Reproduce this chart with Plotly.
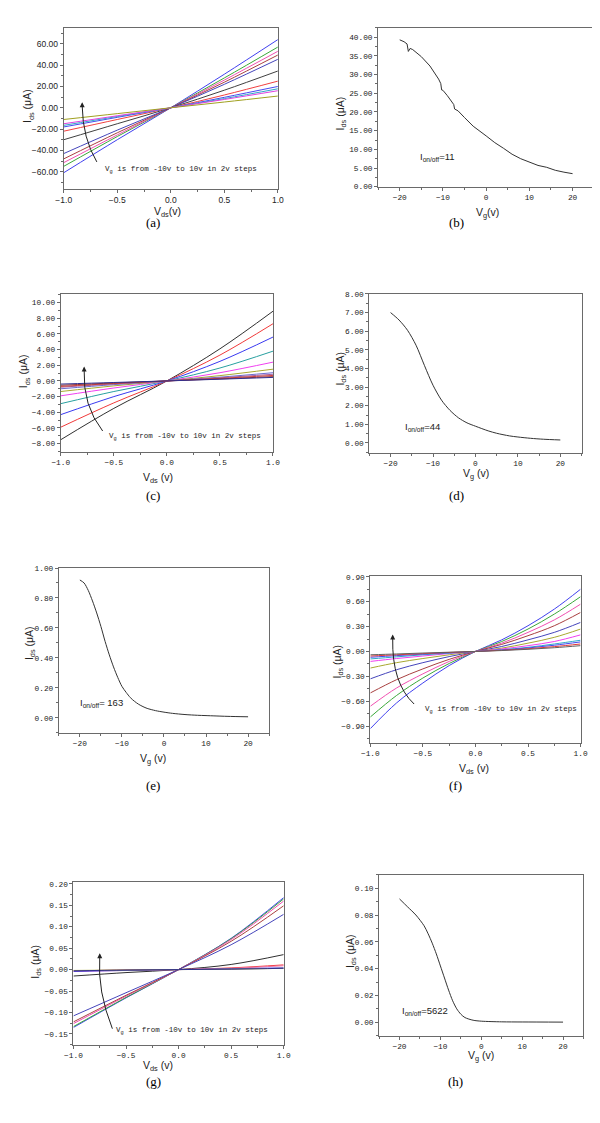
import plotly.graph_objects as go

W, H = 600, 1123

# ---------------- data ----------------
# (a) output curves, Vg = -10 .. 10 V in 2 V steps
vds_a = [-1.0, -0.5, 0.0, 0.5, 1.0]
ids_a = [
    [-61, -30, 0, 31.5, 64],
    [-55, -27, 0, 28, 57],
    [-51.5, -25.5, 0, 26, 53],
    [-48, -23.5, 0, 24, 49.5],
    [-43, -21, 0, 22, 45.5],
    [-30, -15, 0, 16.5, 34.5],
    [-22, -11, 0, 12, 25],
    [-18, -9, 0, 9.8, 20],
    [-16.5, -8.2, 0, 8.6, 17.8],
    [-15, -7.5, 0, 7.8, 16],
    [-11, -5.5, 0, 5.4, 11],
]
col_a = ["#4040ee", "#3aa83a", "#f050b0", "#a84040", "#4545bb", "#404040",
         "#f04040", "#4848f0", "#30a8c8", "#e040e0", "#a0a020"]

# (b) transfer curve
vg_b = [-20, -19, -18.3, -18, -17.6, -17, -15, -13, -11, -10.5, -10.3, -10, -9, -8,
        -7.5, -7.3, -6.5, -5, -3, 0, 2, 4, 6, 8, 10, 12, 14, 16, 18, 20]
ids_b = [39.3, 38.8, 38.2, 36.2, 37.0, 36.7, 34.8, 32.3, 28.8, 27.6, 25.9, 25.8, 24.4, 22.8,
         22.0, 20.8, 20.3, 18.5, 16.2, 13.6, 11.8, 10.3, 8.7, 7.5, 6.5, 5.7, 5.2, 4.4, 3.9, 3.5]

# (c) output curves
vds_c = [-1.0, -0.5, 0.0, 0.5, 1.0]
ids_c = [
    [-7.5, -3.5, 0, 4.1, 8.9],
    [-5.9, -2.8, 0, 3.3, 7.3],
    [-4.3, -2.0, 0, 2.5, 5.6],
    [-2.9, -1.35, 0, 1.65, 3.8],
    [-1.9, -0.9, 0, 1.05, 2.4],
    [-1.35, -0.63, 0, 0.68, 1.5],
    [-1.0, -0.47, 0, 0.48, 1.05],
    [-0.8, -0.38, 0, 0.4, 0.85],
    [-0.7, -0.33, 0, 0.33, 0.7],
    [-0.55, -0.26, 0, 0.26, 0.55],
    [-0.4, -0.2, 0, 0.22, 0.45],
]
col_c = ["#303030", "#f03a3a", "#3a3af0", "#28a0a0", "#f040f0", "#a8a830",
         "#6a6ad0", "#a060a0", "#d04040", "#903030", "#303090"]

# (d) transfer curve
vg_d = [-20, -18, -16, -14, -12, -10, -8, -6, -4, -2, 0, 3, 5, 8, 10, 13, 16, 20]
ids_d = [7.0, 6.6, 6.05, 5.25, 4.15, 3.1, 2.3, 1.75, 1.35, 1.08, 0.9, 0.65, 0.52, 0.38, 0.32, 0.25, 0.2, 0.16]

# (e) transfer curve
vg_e = [-20, -19, -18, -17, -16, -15, -14, -13, -12, -11, -10, -9, -8, -7, -6, -5, -4,
        -2, 0, 2, 5, 8, 10, 15, 20]
ids_e = [0.92, 0.90, 0.85, 0.78, 0.70, 0.61, 0.51, 0.42, 0.34, 0.27, 0.21, 0.17, 0.135,
         0.11, 0.09, 0.075, 0.063, 0.048, 0.038, 0.030, 0.022, 0.017, 0.015, 0.010, 0.007]

# (f) output curves
vds_f = [-1.0, -0.75, -0.5, -0.25, 0.0, 0.25, 0.5, 0.75, 1.0]
ids_f = [
    [-0.93, -0.62, -0.38, -0.17, 0, 0.14, 0.31, 0.51, 0.75],
    [-0.79, -0.53, -0.32, -0.145, 0, 0.12, 0.27, 0.45, 0.66],
    [-0.66, -0.44, -0.27, -0.12, 0, 0.10, 0.23, 0.38, 0.57],
    [-0.50, -0.34, -0.21, -0.095, 0, 0.085, 0.19, 0.31, 0.47],
    [-0.33, -0.22, -0.135, -0.062, 0, 0.06, 0.14, 0.23, 0.35],
    [-0.20, -0.135, -0.085, -0.04, 0, 0.04, 0.10, 0.17, 0.27],
    [-0.12, -0.085, -0.055, -0.025, 0, 0.03, 0.07, 0.12, 0.20],
    [-0.09, -0.065, -0.04, -0.02, 0, 0.02, 0.05, 0.09, 0.135],
    [-0.07, -0.05, -0.032, -0.015, 0, 0.018, 0.042, 0.075, 0.115],
    [-0.055, -0.04, -0.026, -0.012, 0, 0.014, 0.033, 0.058, 0.09],
    [-0.04, -0.03, -0.019, -0.009, 0, 0.011, 0.026, 0.045, 0.07],
]
col_f = ["#4040ee", "#3aa83a", "#f050b0", "#a84040", "#4545bb", "#a8a830",
         "#f040f0", "#30a8c8", "#4848f0", "#e03a3a", "#606060"]

# (g) output curves
vds_g = [-1.0, -0.5, 0.0, 0.5, 1.0]
ids_g = [
    [-0.135, -0.066, 0, 0.073, 0.168],
    [-0.133, -0.065, 0, 0.072, 0.165],
    [-0.126, -0.062, 0, 0.070, 0.160],
    [-0.122, -0.060, 0, 0.066, 0.149],
    [-0.108, -0.054, 0, 0.058, 0.129],
    [-0.015, -0.007, 0, 0.012, 0.035],
    [-0.003, -0.001, 0, 0.004, 0.011],
    [-0.004, -0.002, 0, 0.003, 0.009],
    [-0.004, -0.002, 0, 0.002, 0.004],
    [-0.002, -0.001, 0, 0.001, 0.003],
    [-0.003, -0.001, 0, 0.001, 0.003],
]
col_g = ["#4040ee", "#3aa83a", "#f050b0", "#a84040", "#4545bb", "#303030",
         "#f03a3a", "#f070a0", "#3a3af0", "#a8a830", "#303090"]

# (h) transfer curve
vg_h = [-20, -18, -16, -14, -13, -12, -11, -10, -9, -8, -7, -6, -5, -4, -2, 0, 5, 10, 20]
ids_h = [0.092, 0.086, 0.080, 0.072, 0.066, 0.059, 0.051, 0.042, 0.033, 0.024, 0.016,
         0.010, 0.006, 0.0035, 0.0015, 0.0008, 0.0003, 0.0002, 0.0001]

# ---------------- layout helpers ----------------
def px(x, y):
    return x / W, 1 - y / H

# pixel boxes: left, right, top, bottom
panels = [
    dict(box=(48, 268, 17, 179), xr=[-1, 1], yr=[-76, 75], dy=20, my=10, dx=0.5, mx=0.25, xf=".1f", yf=".2f", font="Liberation Sans"),
    dict(box=(371, 593, 17, 177), xr=[-25, 25], yr=[0, 42.5], dy=5, my=2.5, dx=10, mx=5, xf="d", yf=".2f", font="Liberation Mono"),
    dict(box=(45, 263, 285, 444), xr=[-1, 1], yr=[-9.05, 11.1], dy=2, my=1, dx=0.5, mx=0.25, xf=".1f", yf=".2f", font="Liberation Mono"),
    dict(box=(362, 580, 285, 445), xr=[-25, 25], yr=[-0.53, 8], dy=1, my=0.5, dx=10, mx=5, xf="d", yf=".2f", font="Liberation Mono"),
    dict(box=(43, 259, 561, 727), xr=[-25, 25], yr=[-0.1, 1.0], dy=0.2, my=0.1, dx=10, mx=5, xf="d", yf=".2f", font="Liberation Mono"),
    dict(box=(363, 579, 569, 737), xr=[-1, 1], yr=[-1.1, 0.91], dy=0.3, my=0.15, dx=0.5, mx=0.25, xf=".1f", yf=".2f", font="Liberation Mono"),
    dict(box=(58, 274, 877, 1041), xr=[-1, 1], yr=[-0.175, 0.205], dy=0.05, my=0.025, dx=0.5, mx=0.25, xf=".1f", yf=".2f", font="Liberation Mono"),
    dict(box=(372, 582, 870, 1032), xr=[-25, 25], yr=[-0.01, 0.11], dy=0.02, my=0.01, dx=10, mx=5, xf="d", yf=".2f", font="Liberation Mono"),
]

fig = go.Figure()
AX = "#6a6a6a"

for i, p in enumerate(panels, start=1):
    l, r, t, b = p["box"]
    xs = "" if i == 1 else str(i)
    common = dict(showgrid=False, zeroline=False, showline=True, linecolor=AX, linewidth=1,
                  mirror=True, ticks="outside", ticklen=3, tickcolor=AX, tickwidth=1,
                  tickfont=dict(family=p["font"], size=7.8 if p["font"] != "Liberation Sans" else 8.5, color="#222"))
    fig.layout["xaxis" + xs] = dict(domain=[l / W, r / W], range=p["xr"], anchor="y" + xs,
                                    dtick=p["dx"], tick0=0, tickformat=p["xf"],
                                    minor=dict(ticks="outside", ticklen=2, dtick=p["mx"], tick0=0, tickcolor=AX),
                                    **common)
    fig.layout["yaxis" + xs] = dict(domain=[1 - b / H, 1 - t / H], range=p["yr"], anchor="x" + xs,
                                    dtick=p["dy"], tick0=0, tickformat=p["yf"],
                                    minor=dict(ticks="outside", ticklen=2, dtick=p["my"], tick0=0, tickcolor=AX),
                                    **common)

def add_family(vx, rows, cols, idx):
    xs = "" if idx == 1 else str(idx)
    for row, c in zip(rows, cols):
        fig.add_trace(go.Scatter(x=vx, y=row, mode="lines", line=dict(color=c, width=1, shape="spline"),
                                 xaxis="x" + xs, yaxis="y" + xs, showlegend=False))

def add_single(vx, vy, idx, smooth=True):
    xs = "" if idx == 1 else str(idx)
    fig.add_trace(go.Scatter(x=vx, y=vy, mode="lines",
                             line=dict(color="#333", width=1, shape="spline" if smooth else "linear",
                                       smoothing=0.8),
                             xaxis="x" + xs, yaxis="y" + xs, showlegend=False))

add_family(vds_a, ids_a, col_a, 1)
add_single(vg_b, ids_b, 2, smooth=False)
add_family(vds_c, ids_c, col_c, 3)
add_single(vg_d, ids_d, 4)
add_single(vg_e, ids_e, 5)
add_family(vds_f, ids_f, col_f, 6)
add_family(vds_g, ids_g, col_g, 7)
add_single(vg_h, ids_h, 8)

ann = []
shapes = []

def text(x, y, s, size=9, family="Liberation Sans", angle=0, xanchor="center", color="#222"):
    X, Y = px(x, y)
    ann.append(dict(x=X, y=Y, xref="paper", yref="paper", text=s, showarrow=False,
                    font=dict(family=family, size=size, color=color), textangle=angle,
                    xanchor=xanchor, yanchor="middle"))

ylab = "I<sub>ds</sub> (μA)"
TS = 10.5
# axis titles
text(12, 96, ylab, angle=-90, size=TS)
text(155, 202, "V<sub>ds</sub>(v)", size=TS)
text(333, 103, ylab, angle=-90, size=TS)
text(483, 203, "V<sub>g</sub>(v)", size=TS)
text(8, 363, ylab, angle=-90, size=TS)
text(145, 470, "V<sub>ds</sub> (v)", size=TS)
text(333, 360, ylab, angle=-90, size=TS)
text(472, 466, "V<sub>g</sub> (v)", size=TS)
text(14, 637, ylab, angle=-90, size=TS)
text(140, 753, "V<sub>g</sub> (v)", size=TS)
text(330, 655, ylab, angle=-90, size=TS)
text(470, 763, "V<sub>ds</sub> (v)", size=TS)
text(20, 957, ylab, angle=-90, size=TS)
text(145, 1063, "V<sub>ds</sub> (v)", size=TS)
text(343, 947, ylab, angle=-90, size=TS)
text(477, 1053, "V<sub>g</sub> (v)", size=TS)

# panel labels
for lab, x, y in [("(a)", 140, 213), ("(b)", 452, 213), ("(c)", 140, 488), ("(d)", 452, 488),
                  ("(e)", 140, 780), ("(f)", 450, 780), ("(g)", 140, 1078), ("(h)", 450, 1078)]:
    text(x, y, lab, size=13, family="Liberation Serif", color="#000")

# on/off ratio labels
for s, x, y in [("11", 412, 147), ("44", 397, 419), (" 163", 63, 697), ("5622", 393, 1007)]:
    text(x, y, "I<sub>on/off</sub>=" + s, size=9.5, xanchor="left")

# Vg sweep notes with curved arrows
note = "V<sub>g</sub> is from -10v to 10v in 2v steps"
for (tx, ty), (bx, by), (mx_, my_), (ux, uy) in [
    ((88, 160), (82, 152), (71, 125), (67, 92)),
    ((92, 429), (88, 423), (73, 394), (69, 358)),
    ((417, 704), (408, 698), (391, 670), (386, 628)),
    ((100, 1027), (98, 1025), (87, 987), (85, 949)),
]:
    text(tx, ty, note, size=7.5, family="Liberation Mono", xanchor="left")
    cx, cy = 2 * mx_ - (bx + ux) / 2, 2 * my_ - (by + uy) / 2
    x0, y0 = px(bx, by)
    x1, y1 = px(cx, cy)
    x2, y2 = px(ux, uy + 4)
    shapes.append(dict(type="path", xref="paper", yref="paper",
                       path=f"M {x0},{y0} Q {x1},{y1} {x2},{y2}",
                       line=dict(color="#222", width=1)))
    X, Y = px(ux, uy)
    ann.append(dict(x=X, y=Y, xref="paper", yref="paper", text="", showarrow=True,
                    ax=0, ay=6, arrowhead=2, arrowsize=1, arrowwidth=1, arrowcolor="#222"))

fig.update_layout(width=W, height=H, margin=dict(l=0, r=0, t=0, b=0),
                  paper_bgcolor="white", plot_bgcolor="white",
                  annotations=ann, shapes=shapes, showlegend=False)

fig.write_html("out.html")
